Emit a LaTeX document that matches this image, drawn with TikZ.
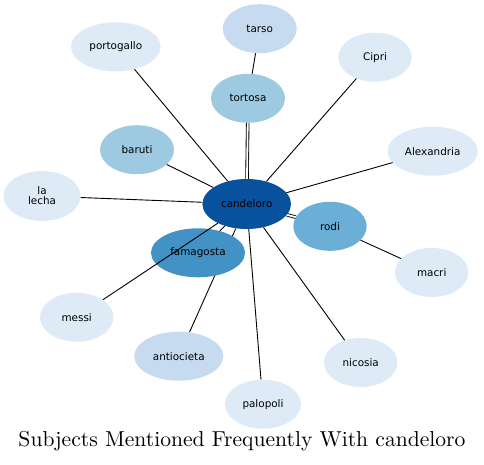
\documentclass[tikz,border=0pt]{standalone}
\usepackage{fontspec}
\newfontfamily\nodefont{DejaVu Sans}
\newfontfamily\titlefont{lmroman10-regular}[Extension=.otf]
\usetikzlibrary{shapes.geometric}
\definecolor{c1}{HTML}{08519C}
\definecolor{c2}{HTML}{4292C6}
\definecolor{c3}{HTML}{6BAED6}
\definecolor{c4}{HTML}{9ECAE1}
\definecolor{c5}{HTML}{C6DBEF}
\definecolor{c6}{HTML}{DEEBF7}
\tikzset{
  nd/.style={ellipse, draw=none, inner sep=0pt, minimum width=74pt, minimum height=49pt,
    font=\nodefont\fontsize{10.4}{12}\selectfont, text=black, align=center},
  edge/.style={draw=black, line width=0.9pt},
  dbl/.style={draw=black, double=white, double distance=1.8pt, line width=0.85pt},
}
\begin{document}
\begin{tikzpicture}[x=1pt,y=-1pt]
\useasboundingbox (0,0) rectangle (484,464);
\fill[white] (0,0) rectangle (484,464);
% invisible copies for the edge drawn beneath famagosta
\path (246.7,204) node[nd, minimum width=88.6pt, minimum height=50pt, fill=none] (cand0) {};
\path (178.8,356.2) node[nd, minimum width=89pt, fill=none] (anti0) {};
\draw[edge] (cand0) -- (anti0);
% nodes
\node[nd, fill=c5] (tarso) at (259.7,28.7) {tarso};
\node[nd, fill=c4] (tortosa) at (248,98.3) {tortosa};
\node[nd, fill=c6, minimum width=89.6pt] (portogallo) at (115.8,46.8) {portogallo};
\node[nd, fill=c6, minimum width=73.4pt] (cipri) at (375,57.2) {Cipri};
\node[nd, fill=c6, minimum width=90pt] (alex) at (432.7,151.2) {Alexandria};
\node[nd, fill=c4] (baruti) at (137,149.7) {baruti};
\node[nd, fill=c6, minimum width=77pt, minimum height=50pt] (lalecha) at (42,196) {la\\[-2pt]lecha};
\node[nd, fill=c3, minimum width=73.4pt] (rodi) at (330,226.3) {rodi};
\node[nd, fill=c6, minimum width=73.4pt] (macri) at (431.7,272.5) {macri};
\node[nd, fill=c6, minimum width=73.4pt] (messi) at (76.7,317.2) {messi};
\node[nd, fill=c5, minimum width=89pt] (antiocieta) at (178.8,356.2) {antiocieta};
\node[nd, fill=c6, minimum width=73.4pt] (nicosia) at (360.7,362.5) {nicosia};
\node[nd, fill=c6, minimum width=76pt] (palopoli) at (263,404.2) {palopoli};
\node[nd, fill=c2, minimum width=94pt] (famagosta) at (198,252.8) {famagosta};
\node[nd, fill=c1, minimum width=88.6pt, minimum height=50pt] (candeloro) at (246.7,204) {candeloro};
% edges
\draw[edge] (tarso) -- (tortosa);
\draw[dbl] (candeloro) -- (tortosa);
\draw[edge] (candeloro) -- (portogallo);
\draw[edge] (candeloro) -- (cipri);
\draw[edge] (candeloro) -- (alex);
\draw[edge] (candeloro) -- (baruti);
\draw[edge] (candeloro) -- (lalecha);
\draw[dbl] (candeloro) -- (rodi);
\draw[edge] (rodi) -- (macri);
\draw[edge] (candeloro) -- (famagosta);
\draw[edge] (candeloro) -- (messi);
\draw[edge] (candeloro) -- (nicosia);
\draw[edge] (candeloro) -- (palopoli);
% title
\node[font=\titlefont\fontsize{21.6}{26}\selectfont, inner sep=0pt] (title) at (242,441) {Subjects Mentioned Frequently With candeloro};
\end{tikzpicture}
\end{document}
